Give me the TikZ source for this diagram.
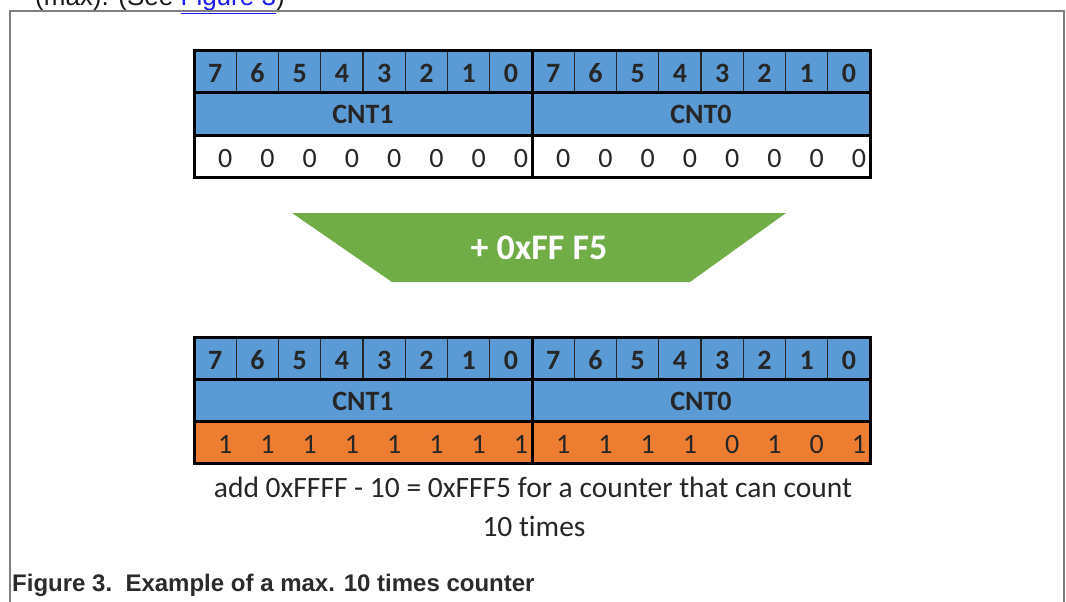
\documentclass[tikz,border=0pt]{standalone}
\usepackage{fontspec}
\setmainfont{Carlito}[Ligatures=CommonOff]
\newfontfamily\arialfont{Liberation Sans}
\definecolor{regblue}{HTML}{5B9BD5}
\definecolor{regorange}{HTML}{ED7D31}
\definecolor{opgreen}{HTML}{70AD47}
\definecolor{framegray}{HTML}{7F7F7F}
\definecolor{captext}{HTML}{2B2B2B}
\definecolor{linkblue}{HTML}{1A1AEE}

% cell width of one bit
\def\cw{42.25}

\tikzset{
  bitcell/.style={anchor=base, font=\bfseries\fontsize{28}{28}\selectfont, text=black!85},
  namecell/.style={anchor=base, font=\bfseries\fontsize{28}{28}\selectfont, text=black!85},
  valtext/.style={anchor=base, font=\fontsize{28}{28}\selectfont, text=black!85},
  thinline/.style={line width=1.2pt, black!85},
  thickline/.style={line width=3pt, black},
  notetext/.style={anchor=base, font=\fontsize{29.5}{29.5}\selectfont, text=black!85},
}

% one 16-bit counter register: #1 name prefix, #2 top y, #3 fill of the value row, #4 the 16 values
\newcommand\drawregister[4]{%
  % fills
  \fill[regblue] (194,#2) rectangle (870,{#2+84});
  \fill[#3] (194,{#2+84}) rectangle (870,{#2+126});
  % bit numbers
  \foreach \i in {0,...,15}{
    \pgfmathtruncatemacro\bitno{7-mod(\i,8)}
    \node[bitcell] (#1b\i) at ({194+(\i+0.5)*\cw},{#2+32}) {\bitno};
  }
  % inner bit separators
  \foreach \i in {1,...,15}{
    \draw[thinline] ({194+\i*\cw},#2) -- ({194+\i*\cw},{#2+42});
  }
  % byte names
  \node[namecell] (#1hi) at ({194+4*\cw},{#2+73}) {CNT1};
  \node[namecell] (#1lo) at ({194+12*\cw},{#2+73}) {CNT0};
  % values
  \foreach \v [count=\k from 0] in {#4}{
    \node[valtext] (#1v\k) at ({194+(\k+0.5)*\cw+10},{#2+116}) {\v};
  }
  % frame, row separators and byte divider
  \draw[thickline] (194,{#2+42}) -- (870,{#2+42});
  \draw[thickline] (194,{#2+84}) -- (870,{#2+84});
  \draw[thickline] ({194+8*\cw},#2) -- ({194+8*\cw},{#2+126});
  \draw[thickline] (194,#2) rectangle (870,{#2+126});
}

\begin{document}
\begin{tikzpicture}[x=1pt,y=-1pt]
\useasboundingbox (0,0) rectangle (1066,602);
\clip (0,0) rectangle (1066,602);

% running text above the figure box
\node[anchor=base west, inner sep=0pt, font=\arialfont\fontsize{26}{26}\selectfont, text=black!90] (ref) at (35,6)
  {(max). (See \textcolor{linkblue}{\underline{Figure 3}})};

% figure box
\draw[framegray, line width=2pt] (10,620) -- (10,11) -- (1064,11) -- (1064,620);

% counter before the addition
\drawregister{top}{51}{white}{0,0,0,0,0,0,0,0,0,0,0,0,0,0,0,0}

% the addition step
\fill[opgreen] (292,213) -- (786,213) -- (690,282) -- (392,282) -- cycle;
\node[font=\bfseries\fontsize{36}{36}\selectfont, text=white] (op) at (539,247.5) {+ 0xFF F5};

% counter after the addition
\drawregister{bot}{337}{regorange}{1,1,1,1,1,1,1,1,1,1,1,1,0,1,0,1}

% explanation
\node[notetext] (note1) at (533,497) {add 0xFFFF - 10 = 0xFFF5 for a counter that can count};
\node[notetext] (note2) at (534,536) {10 times};

% figure caption
\node[anchor=base west, inner sep=0pt, font=\arialfont\bfseries\fontsize{24}{24}\selectfont, text=captext] (caption) at (12,591)
  {Figure 3.\ \ Example of a max. 10 times counter};
\end{tikzpicture}
\end{document}
